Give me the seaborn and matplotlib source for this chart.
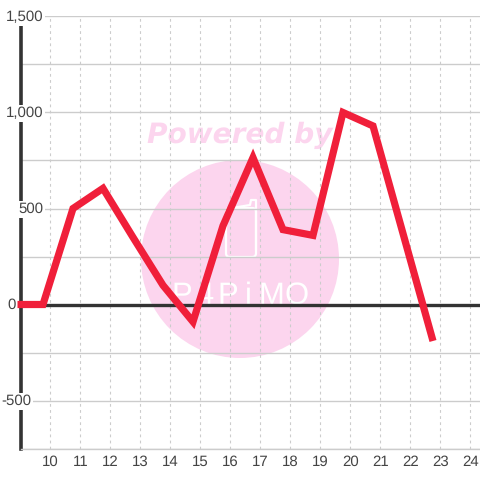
import matplotlib
matplotlib.use("Agg")
import matplotlib.pyplot as plt
import seaborn as sns
from matplotlib.lines import Line2D
from matplotlib.patches import Circle, FancyBboxPatch

hours = [8.9, 9.75, 10.75, 11.75, 12.75, 13.75, 14.75, 15.75, 16.75, 17.75, 18.75, 19.75, 20.75, 21.75, 22.75]
values = [0, 0, 500, 605, 350, 100, -90, 410, 765, 390, 360, 1000, 930, 370, -190]
x_ticks = list(range(10, 25))
y_ticks = [1500, 1000, 500, 0, -500]
y_labels = ["1,500", "1,000", "500", "0", "-500"]
y_label_right = [43, 43, 43, 16, 31]
logo_letters = ["P", "4", "P", "i", "M", "O"]
logo_centers = [182, 205, 228, 248, 271, 297]

sns.set_style("white")
plt.rcParams["font.family"] = ["Liberation Sans", "DejaVu Sans"]
plt.rcParams["text.hinting"] = "no_hinting"
plt.rcParams["text.hinting_factor"] = 1

fig = plt.figure(figsize=(4.8, 4.8), dpi=100)
ax = fig.add_axes([20.5 / 480, 31.5 / 480, 459.5 / 480, 432 / 480])
ax.set_facecolor("none")


def px(x, y):
    return x / 480, 1 - y / 480


# watermark sits behind the axes
pink = "#fcd5ee"
fig.add_artist(Circle(px(240, 259), 99 / 480, transform=fig.transFigure, color=pink, lw=0, zorder=-3))
fig.text(*px(240, 135), "Powered by", color=pink, fontsize=20.2, fontweight="bold", fontstyle="italic",
         family="DejaVu Sans", ha="center", va="center", zorder=-3)
for letter, cx in zip(logo_letters, logo_centers):
    fig.text(*px(cx, 304), letter, color="white", fontsize=22.5, family="Liberation Sans",
             ha="center", va="baseline", zorder=-2)
phone_x = [232, 250, 251, 256, 256]
phone_y = [208, 205, 200, 200, 250]
fig.add_artist(Line2D([a / 480 for a in phone_x], [1 - b / 480 for b in phone_y], color="white", lw=1.6,
                      transform=fig.transFigure, zorder=-2))
fig.add_artist(FancyBboxPatch(px(226, 257), 30 / 480, 49 / 480, boxstyle="round,pad=0,rounding_size=0.008",
                              transform=fig.transFigure, fc="none", ec="white", lw=1.6, zorder=-2))

sns.lineplot(x=hours, y=values, ax=ax, color="#f01f3a", linewidth=5.2, sort=False, errorbar=None,
             zorder=5, solid_joinstyle="miter", solid_capstyle="butt", clip_on=False)

ax.set_xlim(9, 24.317)
ax.set_ylim(-750, 1500)
ax.set_xticks(x_ticks)
ax.set_xticklabels([str(t) for t in x_ticks], fontsize=10.9, color="#444444")
ax.set_yticks(range(-750, 1501, 250))
ax.set_yticklabels([])
ax.tick_params(length=0, pad=4.5)
ax.grid(True, axis="y", color="#cccccc", lw=1)
ax.grid(True, axis="x", color="#cccccc", lw=0.8, linestyle=(0, (2.5, 3)))
ax.set_axisbelow(True)

for side in ["top", "right"]:
    ax.spines[side].set_visible(False)
ax.spines["bottom"].set_color("#cccccc")
ax.spines["bottom"].set_linewidth(1)
ax.spines["left"].set_color("#333333")
ax.spines["left"].set_linewidth(2.6)
ax.axhline(0, color="#333333", lw=2.4, zorder=3)

# labels carry a white box that cuts the y axis line
for val, lab, right in zip(y_ticks, y_labels, y_label_right):
    ax.annotate(lab, xy=(0, val), xycoords=("axes fraction", "data"),
                xytext=((right - 20.5) * 0.72, -0.6), textcoords="offset points",
                ha="right", va="center", fontsize=10.9, color="#444444", zorder=4, annotation_clip=False,
                bbox=dict(fc="white", ec="none", pad=1.2))

fig.savefig("out.png", dpi=100)
